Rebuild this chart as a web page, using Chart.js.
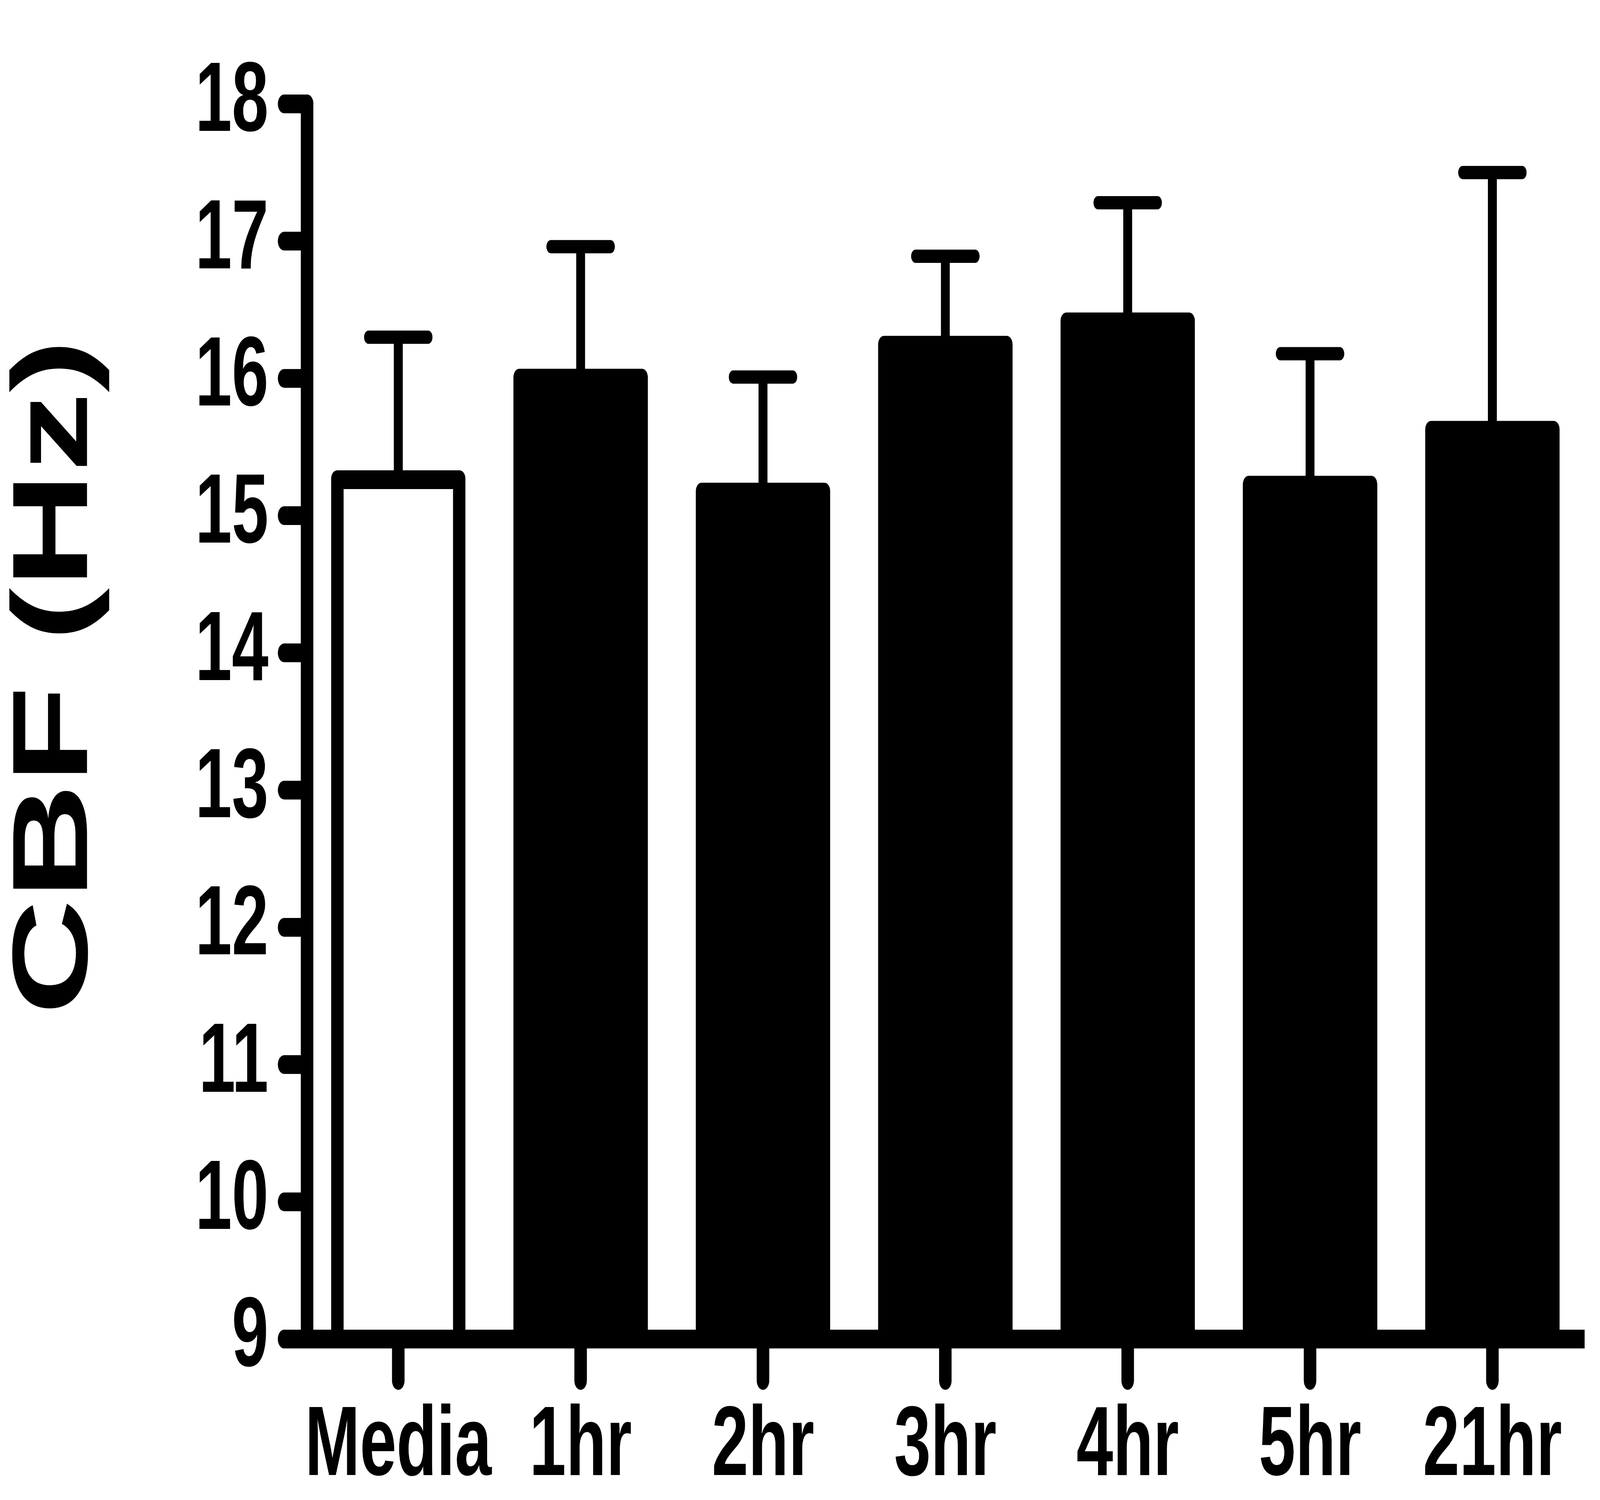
<!DOCTYPE html>
<html>
<head>
<meta charset="utf-8">
<title>CBF (Hz)</title>
<script src="https://cdn.jsdelivr.net/npm/chart.js@4.4.1/dist/chart.umd.min.js"></script>
<style>
    html, body { margin: 0; padding: 0; background: #ffffff; overflow: hidden; }
    /* chart is laid out at the reference size, then fitted to the window */
    #wrap { width: 6127px; height: 3840px; position: absolute; left: 0; top: 0; transform-origin: 0 0; }
</style>
</head>
<body>
<div id="wrap"><canvas id="cbfChart"></canvas></div>
<script>
// Chart values
const categories = ['Media', '1hr', '2hr', '3hr', '4hr', '5hr', '21hr'];
const meanCBF = [15.33, 16.07, 15.24, 16.31, 16.48, 15.29, 15.69];
const errorCBF = [0.97, 0.89, 0.77, 0.58, 0.80, 0.89, 1.81];
const barFills = ['#ffffff', '#000000', '#000000', '#000000', '#000000', '#000000', '#000000'];
const barBorders = [48, 0, 0, 0, 0, 0, 0];
const yMin = 9;
const yMax = 18;
const yTickStep = 1;

const fontFamily = "'Liberation Sans', Arial, Helvetica, sans-serif";

// Fit the 6127x3840 layout into whatever window we get
const wrap = document.getElementById('wrap');
wrap.style.transform = 'scale(' + (window.innerWidth / 6127) + ',' + (window.innerHeight / 3840) + ')';

// Draws the upward error bars (stem + round-capped cap) from each bar top
const errorBarPlugin = {
    id: 'errorBars',
    afterDatasetsDraw(chart) {
        const ctx = chart.ctx;
        const yScale = chart.scales.y;
        const meta = chart.getDatasetMeta(0);
        ctx.save();
        ctx.strokeStyle = '#000000';
        meta.data.forEach((bar, i) => {
            const top = yScale.getPixelForValue(meanCBF[i] + errorCBF[i]);
            // stem
            ctx.lineWidth = 34;
            ctx.lineCap = 'butt';
            ctx.beginPath();
            ctx.moveTo(bar.x, bar.y + 10);
            ctx.lineTo(bar.x, top);
            ctx.stroke();
            // cap
            ctx.lineCap = 'round';
            ctx.beginPath();
            ctx.moveTo(bar.x - 114, top);
            ctx.lineTo(bar.x + 114, top);
            ctx.stroke();
        });
        ctx.restore();
    }
};

// Draws thick Prism-style axes with round-capped ticks on top of the bars
const axesPlugin = {
    id: 'prismAxes',
    afterDraw(chart) {
        const ctx = chart.ctx;
        const area = chart.chartArea;
        const xScale = chart.scales.x;
        const yScale = chart.scales.y;
        const yBottom = yScale.getPixelForValue(yMin);
        const yTop = yScale.getPixelForValue(yMax);
        ctx.save();
        ctx.strokeStyle = '#000000';
        ctx.lineWidth = 48;

        // y ticks
        ctx.lineCap = 'round';
        yScale.ticks.forEach(t => {
            const py = yScale.getPixelForValue(t.value);
            ctx.beginPath();
            ctx.moveTo(area.left - 88, py);
            ctx.lineTo(area.left, py);
            ctx.stroke();
        });

        // x ticks
        xScale.ticks.forEach((t, i) => {
            const tx = xScale.getPixelForTick(i);
            ctx.beginPath();
            ctx.moveTo(tx, yBottom);
            ctx.lineTo(tx, yBottom + 106);
            ctx.stroke();
        });

        // y axis line
        ctx.beginPath();
        ctx.moveTo(area.left, yTop);
        ctx.lineTo(area.left, yBottom);
        ctx.stroke();

        // x axis line: round end on the left, square end on the right
        ctx.beginPath();
        ctx.moveTo(area.left - 88, yBottom);
        ctx.lineTo(area.left + 200, yBottom);
        ctx.stroke();
        ctx.lineCap = 'butt';
        ctx.beginPath();
        ctx.moveTo(area.left, yBottom);
        ctx.lineTo(area.right + 4, yBottom);
        ctx.stroke();
        ctx.restore();
    }
};

const chartData = {
    labels: categories,
    datasets: [{
        label: 'CBF',
        data: meanCBF,
        backgroundColor: barFills,
        borderColor: '#000000',
        borderWidth: barBorders,
        borderSkipped: 'start',
        borderRadius: { topLeft: 22, topRight: 22, bottomLeft: 0, bottomRight: 0 },
        barPercentage: 0.737,
        categoryPercentage: 1.0,
        base: yMin
    }]
};

new Chart(document.getElementById('cbfChart'), {
    type: 'bar',
    data: chartData,
    plugins: [errorBarPlugin, axesPlugin],
    options: {
        responsive: true,
        maintainAspectRatio: false,
        devicePixelRatio: 1,
        animation: false,
        layout: {
            padding: { top: 141, right: 13, bottom: 0, left: 0 }
        },
        plugins: {
            legend: { display: false },
            tooltip: { enabled: false }
        },
        scales: {
            x: {
                offset: true,
                grid: { display: false },
                border: { display: false },
                ticks: {
                    color: '#000000',
                    padding: 145,
                    maxRotation: 0,
                    autoSkip: false,
                    font: { family: fontFamily, size: 252, weight: 'bold', lineHeight: 1 }
                },
                afterFit(scale) { scale.height = 412; }
            },
            y: {
                min: yMin,
                max: yMax,
                grid: { display: false },
                border: { display: false },
                ticks: {
                    stepSize: yTickStep,
                    color: '#000000',
                    padding: 140,
                    font: { family: fontFamily, size: 252, weight: 'bold', lineHeight: 1 }
                },
                title: {
                    display: true,
                    // two leading spaces nudge the centred title up a little, like the original
                    text: '  CBF (Hz)',
                    color: '#000000',
                    padding: { top: 15, bottom: 0 },
                    font: { family: fontFamily, size: 410, weight: 'bold', lineHeight: 1 }
                },
                afterFit(scale) { scale.width = 1176; }
            }
        }
    }
});
</script>
</body>
</html>
